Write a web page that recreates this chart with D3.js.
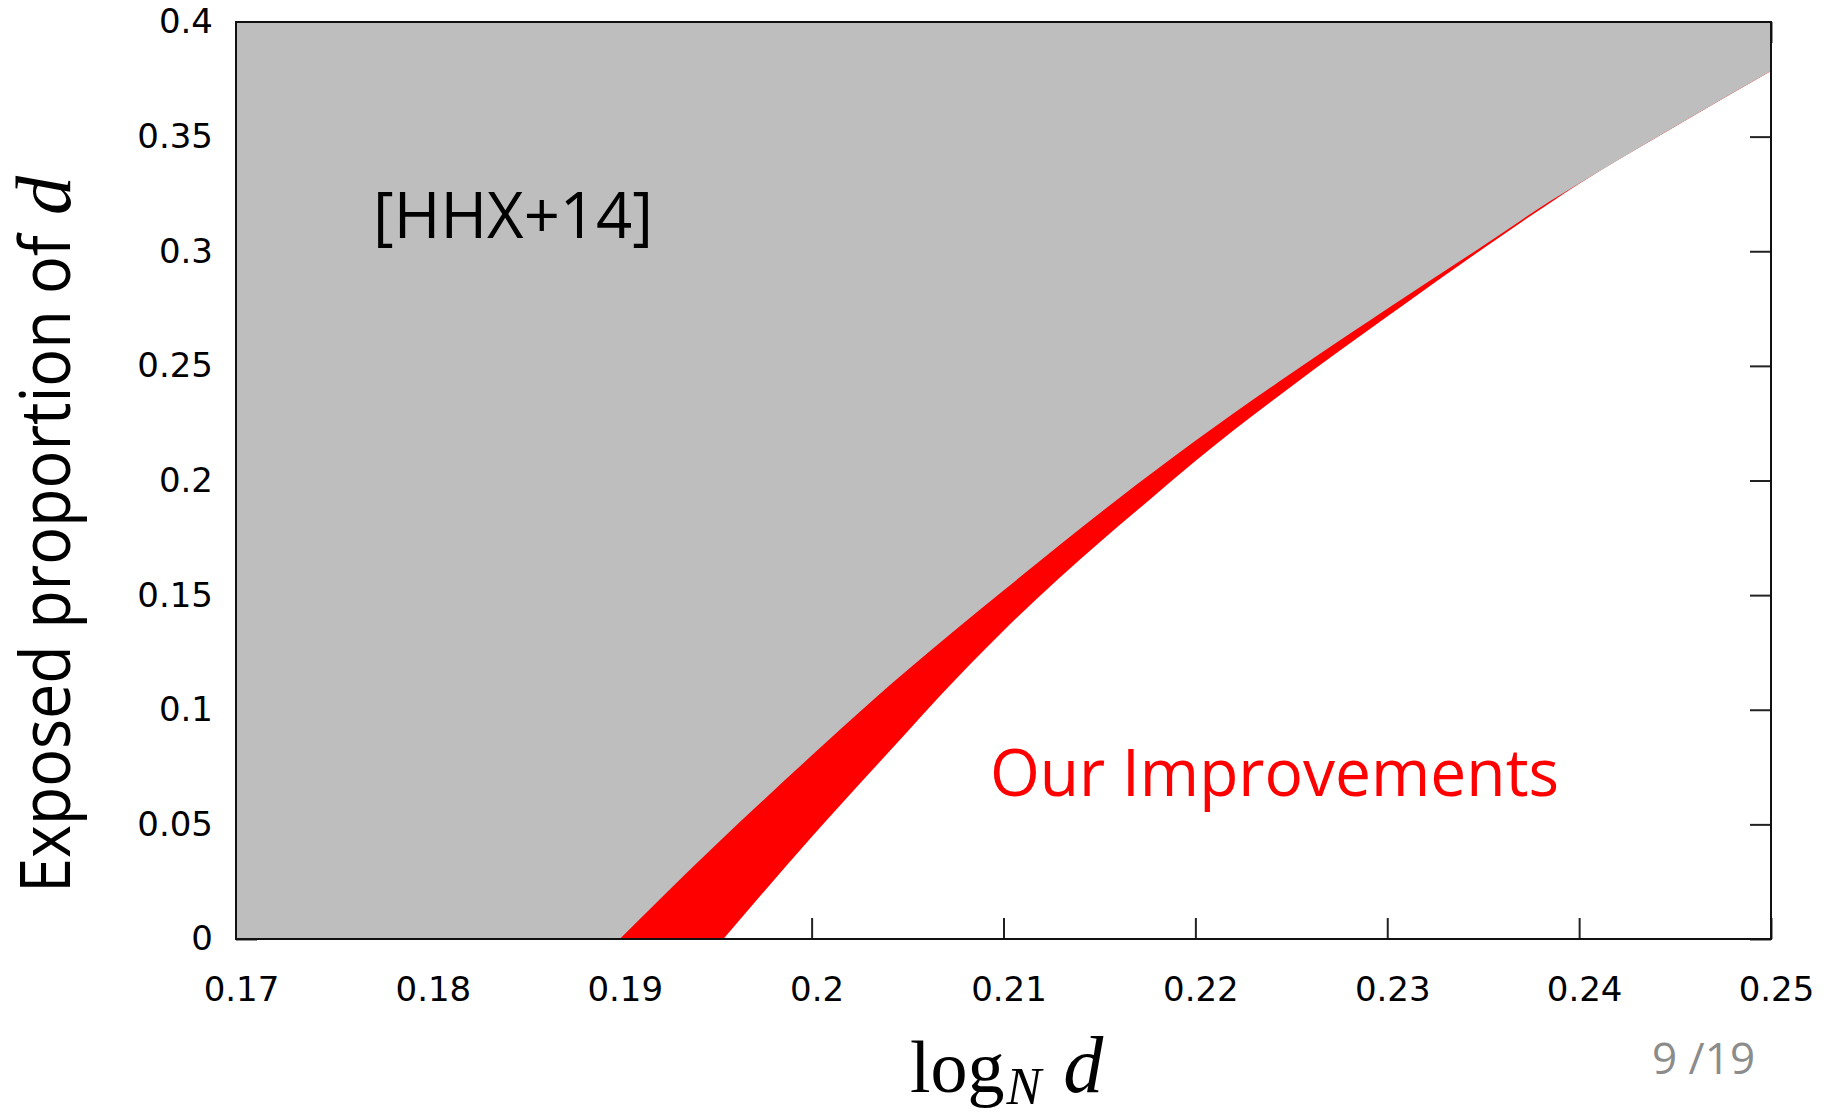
<!DOCTYPE html>
<html>
<head>
	<meta http-equiv="Content-Type" content="text/html;charset=UTF-8">
	<title>Exposed proportion of d</title>
	<style>
		body { margin: 0; background: #fff; }
		.axis text { font-family: "DejaVu Sans", sans-serif; font-size: 34px; fill: #000; }
		.axis line { stroke: #222; stroke-width: 2px; }
		.axis path { display: none; }
	</style>
</head>
<body>

<!--		The Chart-->
	<div class="chart"></div>

	<script src="https://d3js.org/d3.v7.min.js"></script>
	<script>

		/* tick values */
		var xTicks = [0.17, 0.18, 0.19, 0.2, 0.21, 0.22, 0.23, 0.24, 0.25];
		var yTicks = [0, 0.05, 0.1, 0.15, 0.2, 0.25, 0.3, 0.35, 0.4];

		/* [HHX+14] boundary (grey above it), starts on the x axis */
		var hhxX = [0.19, 0.195, 0.2, 0.2032, 0.205, 0.21, 0.2159, 0.22, 0.225, 0.2281, 0.23, 0.235, 0.2385, 0.24, 0.245, 0.25];
		var hhxY = [0, 0.041, 0.080, 0.1043, 0.1173, 0.152, 0.1915, 0.2173, 0.2468, 0.2643, 0.2749, 0.3024, 0.3219, 0.3296, 0.3544, 0.3786];

		/* our boundary (red between the two curves) */
		var oursX = [0.1954, 0.2, 0.205, 0.2066, 0.21, 0.215, 0.2176, 0.22, 0.225, 0.23, 0.2307, 0.235, 0.2385, 0.24, 0.245, 0.25];
		var oursY = [0, 0.0445, 0.0905, 0.1052, 0.1345, 0.173, 0.1915, 0.2085, 0.241, 0.2715, 0.2757, 0.3012, 0.3212, 0.3294, 0.3544, 0.3786];

		var w = 1831;
		var h = 1113;
		var pLeft = 236, pRight = 1771, pTop = 22, pBottom = 939;

		var SVG = d3.select("div.chart").append("svg")
					.attr("width", w)
					.attr("height", h);

		var xSCALE = d3.scaleLinear()
						.domain([0.17, 0.25])
						.range([pLeft, pRight]);

		var ySCALE = d3.scaleLinear()
						.domain([0, 0.4])
						.range([pBottom, pTop]);

		var fmt = function(d){ return d3.format("")(+d.toFixed(2)); };

		/* ticks first, the fills cover them */
		SVG.append("g")
			.attr("class", "axis")
			.attr("transform", "translate(0," + pBottom + ")")
			.call(d3.axisBottom(xSCALE).tickValues(xTicks).tickSize(-21).tickPadding(38).tickFormat(fmt))
			.selectAll("text").attr("dx", 5);

		SVG.append("g")
			.attr("class", "axis")
			.attr("transform", "translate(" + pLeft + ",0)")
			.call(d3.axisLeft(ySCALE).tickValues(yTicks).tickSize(-21).tickPadding(23).tickFormat(fmt));

		SVG.append("g")
			.attr("class", "axis")
			.attr("transform", "translate(" + pRight + ",0)")
			.call(d3.axisRight(ySCALE).tickValues(yTicks).tickSize(-21).tickFormat(""));

		SVG.append("g")
			.attr("class", "axis")
			.attr("transform", "translate(0," + pTop + ")")
			.call(d3.axisTop(xSCALE).tickValues(xTicks).tickSize(-21).tickFormat(""));

		/* clip to the frame */
		SVG.append("clipPath").attr("id", "plot")
			.append("rect")
			.attr("x", pLeft).attr("y", pTop)
			.attr("width", pRight - pLeft).attr("height", pBottom - pTop);

		var oursData = oursX.map(function(x, i){ return [x, oursY[i]]; });
		var hhxData = hhxX.map(function(x, i){ return [x, hhxY[i]]; });

		var line = d3.line()
					.curve(d3.curveMonotoneX)
					.x(function(d){ return xSCALE(d[0]); })
					.y(function(d){ return ySCALE(d[1]); });

		/* region above a curve: curve, then top-right, top-left, bottom-left */
		var above = function(data){
			return line(data)
				+ "L" + xSCALE(0.25) + "," + ySCALE(0.4)
				+ "L" + xSCALE(0.17) + "," + ySCALE(0.4)
				+ "L" + xSCALE(0.17) + "," + ySCALE(0) + "Z";
		};

		/* red: everything above our curve */
		SVG.append("path")
			.attr("clip-path", "url(#plot)")
			.attr("fill", "#ff0000")
			.attr("d", above(oursData));

		/* grey: everything above the [HHX+14] curve */
		SVG.append("path")
			.attr("clip-path", "url(#plot)")
			.attr("fill", "#bebebe")
			.attr("d", above(hhxData));

		/* frame */
		SVG.append("rect")
			.attr("x", pLeft).attr("y", pTop)
			.attr("width", pRight - pLeft).attr("height", pBottom - pTop)
			.attr("fill", "none")
			.attr("stroke", "#111")
			.attr("stroke-width", 2);

		/* labels in the plot */
		SVG.append("text")
			.text("[HHX+14]")
			.attr("x", 373).attr("y", 238)
			.attr("font-family", "Open Sans")
			.attr("font-size", "64px")
			.attr("textLength", 280)
			.attr("lengthAdjust", "spacingAndGlyphs")
			.attr("fill", "#000");

		SVG.append("text")
			.text("Our Improvements")
			.attr("x", 990).attr("y", 796)
			.attr("font-family", "Open Sans")
			.attr("font-size", "66px")
			.attr("textLength", 569)
			.attr("lengthAdjust", "spacingAndGlyphs")
			.attr("fill", "#ff0000");

		/* y label */
		var yLab = SVG.append("text")
			.attr("transform", "translate(70,893) rotate(-90)")
			.attr("fill", "#000");
		yLab.append("tspan")
			.text("Exposed proportion of")
			.attr("font-family", "Open Sans")
			.attr("font-size", "70px")
			.attr("textLength", 658)
			.attr("lengthAdjust", "spacingAndGlyphs");
		yLab.append("tspan")
			.text("d")
			.attr("dx", 20)
			.attr("font-family", "Liberation Serif")
			.attr("font-style", "italic")
			.attr("font-size", "78px");

		/* x label */
		var xLab = SVG.append("text")
			.attr("x", 910).attr("y", 1092)
			.attr("font-family", "Liberation Serif")
			.attr("fill", "#000");
		xLab.append("tspan").text("log").attr("font-size", "74px");
		xLab.append("tspan").text("N").attr("font-size", "52px")
			.attr("font-style", "italic").attr("dy", 12).attr("dx", 2);
		xLab.append("tspan").text("d").attr("font-size", "80px")
			.attr("font-style", "italic").attr("dy", -12).attr("dx", 22);

		/* page number */
		SVG.append("text")
			.text("9 /19")
			.attr("x", 1652).attr("y", 1074)
			.attr("font-family", "Open Sans")
			.attr("font-size", "44px")
			.attr("fill", "#8c8c8c");

	</script>

</body>
</html>
